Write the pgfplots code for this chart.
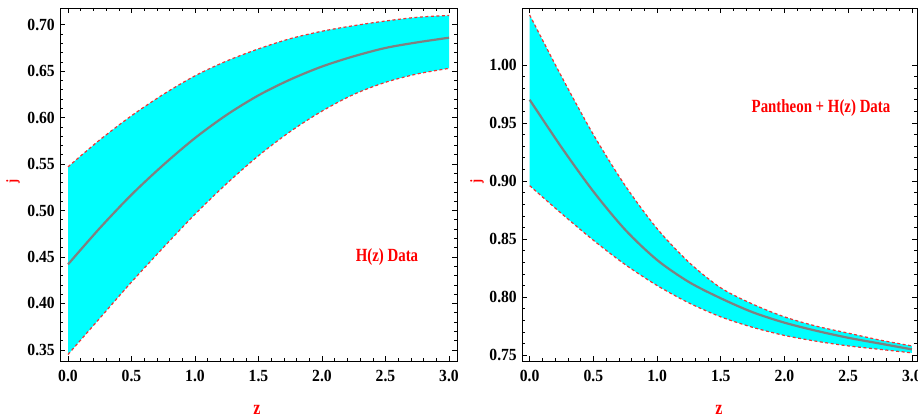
\documentclass[border=0pt]{standalone}
\usepackage{fontspec}
\setmainfont{Liberation Serif}
\newfontfamily\tickf[FakeStretch=0.92]{Liberation Serif}
\newfontfamily\labf[FakeStretch=0.8]{Liberation Serif}
\usepackage{pgfplots}
\usepackage{pgfplotstable}
\pgfplotsset{compat=1.18}
\usepgfplotslibrary{fillbetween}
\definecolor{bandc}{RGB}{0,255,255}
\definecolor{dashc}{RGB}{235,55,55}
\definecolor{midc}{RGB}{128,128,128}

\pgfplotstableread{
z    lo     mid    up
0.00 0.345  0.442  0.547
0.25 0.384  0.481  0.576
0.50 0.423  0.517  0.602
0.75 0.460  0.549  0.625
1.00 0.496  0.578  0.645
1.25 0.529  0.603  0.661
1.50 0.559  0.624  0.674
1.75 0.585  0.641  0.685
2.00 0.607  0.655  0.693
2.25 0.625  0.666  0.699
2.50 0.638  0.675  0.704
2.75 0.647  0.681  0.708
3.00 0.653  0.686  0.710
}\lefttab

\pgfplotstableread{
z    lo     mid    up
0.00 0.896  0.970  1.043
0.25 0.872  0.929  0.990
0.50 0.849  0.891  0.940
0.75 0.828  0.858  0.896
1.00 0.810  0.832  0.859
1.25 0.795  0.813  0.830
1.50 0.783  0.799  0.808
1.75 0.774  0.787  0.794
2.00 0.767  0.778  0.783
2.25 0.762  0.771  0.775
2.50 0.758  0.765  0.769
2.75 0.755  0.760  0.763
3.00 0.752  0.755  0.758
}\righttab

\pgfplotsset{
  mystyle/.style={
    scale only axis, anchor=south west,
    axis line style={black, line width=0.8pt},
    every tick/.style={black, line width=0.6pt},
    major tick length=5pt, minor tick length=3pt,
    tick align=inside,
    xtick={0,0.5,1,1.5,2,2.5,3},
    minor x tick num=4, minor y tick num=4,
    /pgf/number format/assume math mode=true,
    ticklabel style={font=\tickf\bfseries\fontsize{17}{17}\selectfont, text=black},
    xticklabel style={/pgf/number format/.cd, fixed, fixed zerofill, precision=1, /tikz/.cd, inner sep=0pt, yshift=-9pt},
    yticklabel style={/pgf/number format/.cd, fixed, fixed zerofill, precision=2, /tikz/.cd, inner sep=0pt, xshift=-5pt},
    clip=true,
  },
  bandb/.style={dashc, line width=1.2pt, dash pattern=on 3pt off 2.5pt, smooth},
  midl/.style={midc, line width=2.2pt, smooth},
}

\begin{document}
\begin{tikzpicture}
% Left panel
\begin{axis}[mystyle, at={(60pt,59pt)}, width=397pt, height=353pt,
  xmin=-0.063, xmax=3.063, ymin=0.338, ymax=0.718,
  ytick={0.35,0.40,0.45,0.50,0.55,0.60,0.65,0.70}]
  \addplot[draw=none, name path=LU, smooth] table[x=z, y=up] {\lefttab};
  \addplot[draw=none, name path=LL, smooth] table[x=z, y=lo] {\lefttab};
  \addplot[bandc] fill between[of=LU and LL];
  \addplot[bandb] table[x=z, y=up] {\lefttab};
  \addplot[bandb] table[x=z, y=lo] {\lefttab};
  \addplot[midl] table[x=z, y=mid] {\lefttab};
\end{axis}
% Right panel
\begin{axis}[mystyle, at={(522pt,59pt)}, width=395pt, height=353pt,
  xmin=-0.060, xmax=3.04, ymin=0.745, ymax=1.049,
  ytick={0.75,0.80,0.85,0.90,0.95,1.00}]
  \addplot[draw=none, name path=RU, smooth] table[x=z, y=up] {\righttab};
  \addplot[draw=none, name path=RL, smooth] table[x=z, y=lo] {\righttab};
  \addplot[bandc] fill between[of=RU and RL];
  \addplot[bandb] table[x=z, y=up] {\righttab};
  \addplot[bandb] table[x=z, y=lo] {\righttab};
  \addplot[midl] table[x=z, y=mid] {\righttab};
\end{axis}
% Labels
\node[red, inner sep=0pt, font=\labf\bfseries\fontsize{18.6}{20}\selectfont] at (387pt,163pt) {H(z) Data};
\node[red, inner sep=0pt, font=\labf\bfseries\fontsize{18.6}{20}\selectfont] at (821pt,311.7pt) {Pantheon + H(z) Data};
\node[red, inner sep=0pt, rotate=90, font=\labf\bfseries\fontsize{15}{15}\selectfont] at (13pt,238pt) {j};
\node[red, inner sep=0pt, rotate=90, font=\labf\bfseries\fontsize{15}{15}\selectfont] at (477pt,238pt) {j};
\node[red, inner sep=0pt, font=\labf\bfseries\fontsize{20}{20}\selectfont] at (257pt,10pt) {z};
\node[red, inner sep=0pt, font=\labf\bfseries\fontsize{20}{20}\selectfont] at (719pt,10pt) {z};
\pgfresetboundingbox
\path[use as bounding box] (0pt,0pt) rectangle (918pt,420pt);
\end{tikzpicture}
\end{document}
